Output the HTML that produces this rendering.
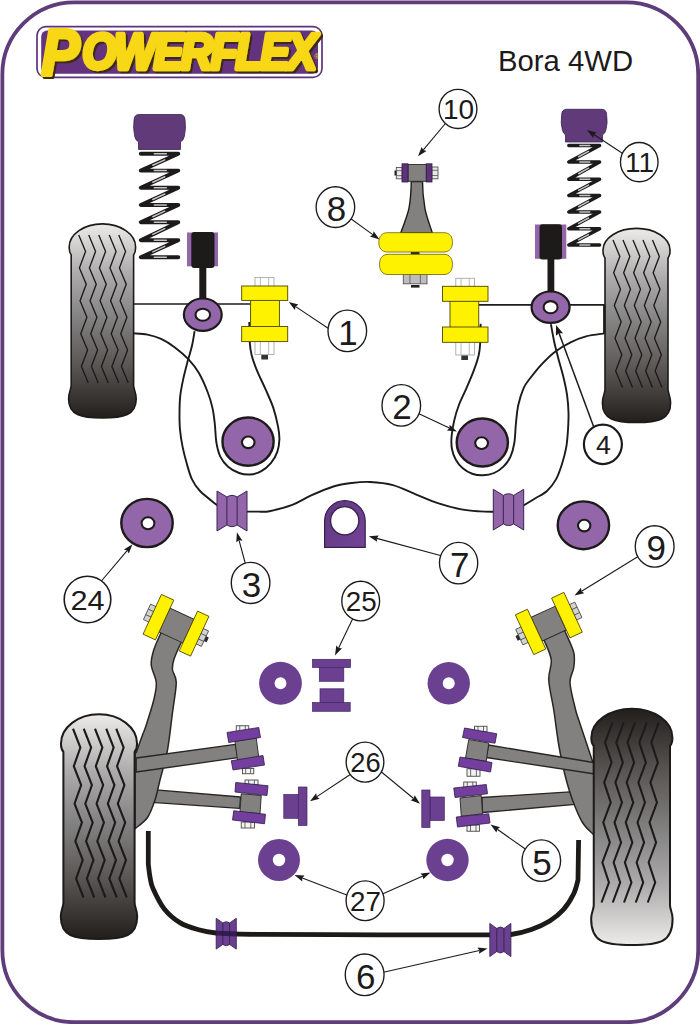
<!DOCTYPE html>
<html lang="en">
<head>
<meta charset="utf-8">
<title>Powerflex - Bora 4WD</title>
<style>
html,body{margin:0;padding:0;background:#ffffff;}
body{width:700px;height:1024px;overflow:hidden;}
svg{display:block;font-family:'Liberation Sans', sans-serif;}
</style>
</head>
<body>
<svg width="700" height="1024" viewBox="0 0 700 1024">
<defs>
<linearGradient id="tg" x1="0" y1="0" x2="0" y2="1"><stop offset="0" stop-color="#ecebea"/><stop offset="0.25" stop-color="#aeacac"/><stop offset="0.5" stop-color="#807f7f"/><stop offset="0.75" stop-color="#56524f"/><stop offset="1" stop-color="#221e1c"/></linearGradient>
<linearGradient id="d7" x1="0" y1="0" x2="1" y2="1"><stop offset="0" stop-color="#603a7e"/><stop offset="1" stop-color="#744398"/></linearGradient>
<filter id="bl" x="-10%" y="-50%" width="120%" height="200%"><feGaussianBlur stdDeviation="0.55"/></filter>
</defs>
<rect x="0" y="0" width="700" height="1024" fill="#ffffff"/>
<rect x="2.35" y="2.3" width="695.85" height="1019.9" rx="72" ry="72" fill="none" stroke="#5f3c7a" stroke-width="3.8"/>
<rect x="37" y="26.6" width="285" height="50.8" rx="9" fill="#fff" stroke="#5f3278" stroke-width="1.7"/>
<rect x="41.2" y="30.4" width="276.8" height="43.3" rx="6" fill="#64327f"/>
<defs><filter id="ls" x="-5%" y="-10%" width="110%" height="125%"><feOffset in="SourceAlpha" dx="1.8" dy="1.5" result="o"/><feFlood flood-color="#3b2a12"/><feComposite in2="o" operator="in" result="sh"/><feMerge><feMergeNode in="sh"/><feMergeNode in="SourceGraphic"/></feMerge></filter></defs>
<text filter="url(#ls)" transform="translate(41.5 74.5) scale(0.89 1)" font-weight="bold" font-style="italic" fill="#f7d714" stroke="#f7d714" stroke-linejoin="round"><tspan font-size="64" stroke-width="4.2">P</tspan><tspan x="45.8" dy="-5.1" font-size="49.5" stroke-width="4.6" letter-spacing="-2.4">OWERFLEX</tspan></text>
<text x="314.2" y="58.5" font-size="6.5" fill="#f7d714">&#174;</text>
<text x="498" y="71" font-size="29.3" fill="#1d1a1a">Bora 4WD</text>
<g>
<path d="M71.2,255 Q69,252.2 69.2,247 C69.2,234.25 84.07,223.9 102.4,223.9 C120.73,223.9 135.6,234.25 135.6,247 Q135.8,252.2 133.6,255 L133.6,385 C133.6,390 136.2,392 136.2,399 C136.2,415 123.6,418 102.4,418 C81.2,418 68.6,415 68.6,399 C68.6,392 71.2,390 71.2,385 Z" fill="url(#tg)" stroke="#1d1a1a" stroke-width="1.6"/>
<polyline points="78.75,235 85.58,251.44 79.42,267.89 86.25,284.33 80.08,300.78 86.92,317.22 80.75,333.67 87.58,350.11 81.42,366.56 88.25,383" fill="none" stroke="#1d1a1a" stroke-width="1.35" stroke-linejoin="miter"/>
<polyline points="88.75,235 95.58,251.44 89.42,267.89 96.25,284.33 90.08,300.78 96.92,317.22 90.75,333.67 97.58,350.11 91.42,366.56 98.25,383" fill="none" stroke="#1d1a1a" stroke-width="1.35" stroke-linejoin="miter"/>
<polyline points="98.75,235 105.58,251.44 99.42,267.89 106.25,284.33 100.08,300.78 106.92,317.22 100.75,333.67 107.58,350.11 101.42,366.56 108.25,383" fill="none" stroke="#1d1a1a" stroke-width="1.35" stroke-linejoin="miter"/>
<polyline points="109.25,235 116.08,251.44 109.92,267.89 116.75,284.33 110.58,300.78 117.42,317.22 111.25,333.67 118.08,350.11 111.92,366.56 118.75,383" fill="none" stroke="#1d1a1a" stroke-width="1.35" stroke-linejoin="miter"/>
<polyline points="118.75,235 125.58,251.44 119.42,267.89 126.25,284.33 120.08,300.78 126.92,317.22 120.75,333.67 127.58,350.11 121.42,366.56 128.25,383" fill="none" stroke="#1d1a1a" stroke-width="1.35" stroke-linejoin="miter"/>
</g>
<g>
<path d="M605,258 Q602.8,255.2 603,250 C603,238.08 618.01,228.4 636.5,228.4 C654.99,228.4 670,238.08 670,250 Q670.2,255.2 668,258 L668,389 C668,394 670.6,396 670.6,403 C670.6,419.5 658,422.5 636.5,422.5 C615,422.5 602.4,419.5 602.4,403 C602.4,396 605,394 605,389 Z" fill="url(#tg)" stroke="#1d1a1a" stroke-width="1.6"/>
<polyline points="613,240 619.83,256.39 613.67,272.78 620.5,289.17 614.33,305.56 621.17,321.94 615,338.33 621.83,354.72 615.67,371.11 622.5,387.5" fill="none" stroke="#1d1a1a" stroke-width="1.35" stroke-linejoin="miter"/>
<polyline points="623,240 629.83,256.39 623.67,272.78 630.5,289.17 624.33,305.56 631.17,321.94 625,338.33 631.83,354.72 625.67,371.11 632.5,387.5" fill="none" stroke="#1d1a1a" stroke-width="1.35" stroke-linejoin="miter"/>
<polyline points="633,240 639.83,256.39 633.67,272.78 640.5,289.17 634.33,305.56 641.17,321.94 635,338.33 641.83,354.72 635.67,371.11 642.5,387.5" fill="none" stroke="#1d1a1a" stroke-width="1.35" stroke-linejoin="miter"/>
<polyline points="643,240 649.83,256.39 643.67,272.78 650.5,289.17 644.33,305.56 651.17,321.94 645,338.33 651.83,354.72 645.67,371.11 652.5,387.5" fill="none" stroke="#1d1a1a" stroke-width="1.35" stroke-linejoin="miter"/>
<polyline points="652.5,240 659.33,256.39 653.17,272.78 660,289.17 653.83,305.56 660.67,321.94 654.5,338.33 661.33,354.72 655.17,371.11 662,387.5" fill="none" stroke="#1d1a1a" stroke-width="1.35" stroke-linejoin="miter"/>
</g>
<line x1="133.75" y1="304" x2="251" y2="304" stroke="#1d1a1a" stroke-width="1.7"/>
<line x1="478.5" y1="304.8" x2="604.5" y2="304.8" stroke="#1d1a1a" stroke-width="1.7"/>
<path d="M133.7,333.4 C135.98,333.6 142.83,333.68 147.4,334.6 C151.97,335.52 156.52,336.77 161.1,338.9 C165.68,341.03 170.32,343.98 174.9,347.4 C179.48,350.82 184.6,355.12 188.6,359.4 C192.6,363.68 195.7,367.58 198.9,373.1 C202.1,378.62 205.53,386.67 207.8,392.5 C210.07,398.33 211.33,402.89 212.5,408.1 C213.67,413.31 214.15,418.02 214.8,423.75 C215.45,429.48 215.48,437.02 216.4,442.5 C217.32,447.98 218.35,452.57 220.3,456.6 C222.25,460.63 224.97,463.97 228.1,466.7 C231.23,469.43 235.45,471.7 239.1,473 C242.75,474.3 246.37,474.77 250,474.5 C253.63,474.23 257.38,473.35 260.9,471.4 C264.42,469.45 268.37,466.05 271.1,462.8 C273.83,459.55 275.92,455.8 277.3,451.9 C278.68,448 279.27,443.57 279.4,439.4 C279.53,435.23 279.1,432.12 278.1,426.9 C277.1,421.68 275.48,414.35 273.4,408.1 C271.32,401.85 268.33,395.65 265.6,389.4 C262.87,383.15 259.33,376.33 257,370.6 C254.67,364.87 252.82,359.82 251.6,355 C250.38,350.18 250.08,347.2 249.7,341.7 C249.32,336.2 249.37,325.28 249.3,322 " fill="none" stroke="#1d1a1a" stroke-width="1.9"/>
<path d="M194.6,331.1 C194.17,333.53 193.15,340.7 192,345.7 C190.85,350.7 189.13,355.67 187.7,361.1 C186.27,366.53 184.63,372.58 183.4,378.3 C182.17,384.02 180.95,389.68 180.3,395.4 C179.65,401.12 179.55,406.88 179.5,412.6 C179.45,418.32 179.48,423.98 180,429.7 C180.52,435.42 181.45,441.18 182.6,446.9 C183.75,452.62 185.33,458.58 186.9,464 C188.47,469.42 189.82,474.9 192,479.4 C194.18,483.9 195.75,486.65 200,491 C204.25,495.35 214.58,503.08 217.5,505.5 " fill="none" stroke="#1d1a1a" stroke-width="1.9"/>
<path d="M247,511.6 C248.83,511.6 254.27,511.67 258,511.6 C261.73,511.53 263.68,512.33 269.4,511.2 C275.12,510.07 285.43,507.38 292.3,504.8 C299.17,502.22 303.75,498.75 310.6,495.7 C317.45,492.65 326.55,488.62 333.4,486.5 C340.25,484.38 345.6,483.75 351.7,483 C357.8,482.25 363.13,481.65 370,482 C376.87,482.35 385.28,483.05 392.9,485.1 C400.52,487.15 408.08,491.25 415.7,494.3 C423.32,497.35 430.98,500.88 438.6,503.4 C446.22,505.92 454.5,508.07 461.4,509.4 C468.3,510.73 474.65,511.02 480,511.4 C485.35,511.78 491.25,511.65 493.5,511.7 " fill="none" stroke="#1d1a1a" stroke-width="1.9"/>
<path d="M480.6,323.75 C480.55,326.74 480.61,336.49 480.3,341.7 C479.99,346.91 479.84,350.18 478.75,355 C477.66,359.82 475.89,364.87 473.75,370.6 C471.61,376.33 468.38,383.67 465.9,389.4 C463.42,395.13 460.85,399.8 458.9,405 C456.95,410.2 455.42,415.39 454.2,420.6 C452.98,425.81 451.98,431.56 451.6,436.25 C451.22,440.94 451.2,444.84 451.9,448.75 C452.6,452.66 453.98,456.44 455.8,459.7 C457.62,462.96 460.07,465.96 462.8,468.3 C465.53,470.64 468.82,472.58 472.2,473.75 C475.58,474.92 479.45,475.43 483.1,475.3 C486.75,475.18 490.72,474.43 494.1,473 C497.48,471.57 500.67,469.43 503.4,466.7 C506.13,463.97 508.67,460.63 510.5,456.6 C512.33,452.57 513.5,447.98 514.4,442.5 C515.3,437.02 515.25,430 515.9,423.75 C516.55,417.5 516.99,410.99 518.3,405 C519.61,399.01 521.8,392.22 523.75,387.8 C525.7,383.38 527.06,382.37 530,378.5 C532.94,374.63 537.22,369.07 541.4,364.6 C545.58,360.13 550.23,355.42 555.1,351.7 C559.97,347.98 565.45,344.87 570.6,342.3 C575.75,339.73 580.35,337.78 586,336.3 C591.65,334.82 601.42,333.88 604.5,333.4 " fill="none" stroke="#1d1a1a" stroke-width="1.9"/>
<path d="M550.9,324.3 C551.47,327.3 553.02,336.45 554.3,342.3 C555.58,348.15 557.03,353.4 558.6,359.4 C560.17,365.4 562.28,372.3 563.7,378.3 C565.12,384.3 566.3,389.68 567.1,395.4 C567.9,401.12 568.35,406.88 568.5,412.6 C568.65,418.32 568.37,423.98 568,429.7 C567.63,435.42 567.3,441.18 566.3,446.9 C565.3,452.62 563.72,458.58 562,464 C560.28,469.42 558.5,474.9 556,479.4 C553.5,483.9 550.5,487.82 547,491 C543.5,494.18 538.92,496.08 535,498.5 C531.08,500.92 525.42,504.33 523.5,505.5 " fill="none" stroke="#1d1a1a" stroke-width="1.9"/>
<line x1="604.2" y1="304.8" x2="604.2" y2="333.5" stroke="#1d1a1a" stroke-width="2.2"/>
<polyline points="140.8,153.75 178.3,153.75 140.8,170.6 178.3,170.6 140.8,187.8 178.3,187.8 140.8,205 178.3,205 140.8,222.2 178.3,222.2 140.8,240.2 178.3,240.2 140.8,257.3 178.3,257.3" fill="none" stroke="#1d1a1a" stroke-width="3.9" stroke-linejoin="round" stroke-linecap="round"/>
<g filter="url(#bl)" stroke="#ededed" stroke-width="1.5" stroke-linecap="round" opacity="0.8">
<line x1="154.3" y1="153.75" x2="166.3" y2="153.75"/>
<line x1="164.8" y1="159.82" x2="152.8" y2="165.21"/>
<line x1="154.3" y1="170.6" x2="166.3" y2="170.6"/>
<line x1="164.8" y1="176.79" x2="152.8" y2="182.3"/>
<line x1="154.3" y1="187.8" x2="166.3" y2="187.8"/>
<line x1="164.8" y1="193.99" x2="152.8" y2="199.5"/>
<line x1="154.3" y1="205" x2="166.3" y2="205"/>
<line x1="164.8" y1="211.19" x2="152.8" y2="216.7"/>
<line x1="154.3" y1="222.2" x2="166.3" y2="222.2"/>
<line x1="164.8" y1="228.68" x2="152.8" y2="234.44"/>
<line x1="154.3" y1="240.2" x2="166.3" y2="240.2"/>
<line x1="164.8" y1="246.36" x2="152.8" y2="251.83"/>
<line x1="154.3" y1="257.3" x2="166.3" y2="257.3"/>
</g>
<polyline points="568.8,145.5 599.6,145.5 568.8,162 599.6,162 568.8,179.25 599.6,179.25 568.8,195.5 599.6,195.5 568.8,212 599.6,212 568.8,228.75 599.6,228.75 568.8,245 599.6,245" fill="none" stroke="#1d1a1a" stroke-width="3.5" stroke-linejoin="round" stroke-linecap="round"/>
<g filter="url(#bl)" stroke="#ededed" stroke-width="1.5" stroke-linecap="round" opacity="0.8">
<line x1="579.89" y1="145.5" x2="589.74" y2="145.5"/>
<line x1="588.51" y1="151.44" x2="578.66" y2="156.72"/>
<line x1="579.89" y1="162" x2="589.74" y2="162"/>
<line x1="588.51" y1="168.21" x2="578.66" y2="173.73"/>
<line x1="579.89" y1="179.25" x2="589.74" y2="179.25"/>
<line x1="588.51" y1="185.1" x2="578.66" y2="190.3"/>
<line x1="579.89" y1="195.5" x2="589.74" y2="195.5"/>
<line x1="588.51" y1="201.44" x2="578.66" y2="206.72"/>
<line x1="579.89" y1="212" x2="589.74" y2="212"/>
<line x1="588.51" y1="218.03" x2="578.66" y2="223.39"/>
<line x1="579.89" y1="228.75" x2="589.74" y2="228.75"/>
<line x1="588.51" y1="234.6" x2="578.66" y2="239.8"/>
<line x1="579.89" y1="245" x2="589.74" y2="245"/>
</g>
<path d="M138.7,114.5 L180.4,114.5 Q184.9,114.5 185.1,120.5 Q186.2,128.5 184.4,136.2 Q183.4,140.8 180.5,141.8 L180.5,149.5 L138.5,149.5 L138.5,141.8 Q135.7,140.8 134.7,136.2 Q132.9,128.5 134,120.5 Q134.2,114.5 138.7,114.5 Z" fill="#613a79" stroke="#3a2350" stroke-width="0.8"/>
<path d="M566.3,109.3 L602,109.3 Q606.5,109.3 606.7,115.3 Q607.8,123.3 606,129.57 Q605,133.81 602.5,134.81 L602.5,142 L565.5,142 L565.5,134.81 Q563.3,133.81 562.3,129.57 Q560.5,123.3 561.6,115.3 Q561.8,109.3 566.3,109.3 Z" fill="#613a79" stroke="#3a2350" stroke-width="0.8"/>
<rect x="187" y="232.5" width="31" height="33.8" fill="#9266a8"/>
<rect x="191.3" y="232" width="23.2" height="36" fill="#1d1a1a" rx="3"/>
<rect x="199.3" y="266" width="7" height="34" fill="#1d1a1a"/>
<rect x="535" y="224.5" width="31.3" height="34.3" fill="#9266a8"/>
<rect x="539.5" y="224.2" width="22.5" height="35.3" fill="#1d1a1a" rx="3"/>
<rect x="547.5" y="257.5" width="6.8" height="35.5" fill="#1d1a1a"/>
<ellipse cx="202.8" cy="314.7" rx="18.9" ry="16.2" fill="#9266a8" stroke="#1d1a1a" stroke-width="2.2"/>
<ellipse cx="202.8" cy="314.7" rx="7.3" ry="6" fill="#fff" stroke="#1d1a1a" stroke-width="2.1"/>
<ellipse cx="550.6" cy="307.2" rx="19" ry="15.7" fill="#9266a8" stroke="#1d1a1a" stroke-width="2.2"/>
<ellipse cx="550.6" cy="307.2" rx="7" ry="6.1" fill="#fff" stroke="#1d1a1a" stroke-width="2.1"/>
<rect x="255" y="277.5" width="19" height="9.5" fill="#ffffff" stroke="#a8a8a8" stroke-width="0.9"/>
<line x1="260.32" y1="277.5" x2="260.32" y2="287" stroke="#a8a8a8" stroke-width="0.8"/>
<line x1="268.68" y1="277.5" x2="268.68" y2="287" stroke="#a8a8a8" stroke-width="0.8"/>
<rect x="255" y="340.6" width="19" height="13.9" fill="#ffffff" stroke="#a8a8a8" stroke-width="0.9"/>
<line x1="260.32" y1="340.6" x2="260.32" y2="354.5" stroke="#a8a8a8" stroke-width="0.8"/>
<line x1="268.68" y1="340.6" x2="268.68" y2="354.5" stroke="#a8a8a8" stroke-width="0.8"/>
<rect x="261.3" y="355" width="6.7" height="4.5" fill="#333"/>
<rect x="250.6" y="299.9" width="28.8" height="27.1" fill="#fff200" stroke="#4d4500" stroke-width="0.9"/>
<rect x="241.7" y="286" width="46" height="14.4" fill="#fff200" stroke="#4d4500" stroke-width="0.9"/>
<rect x="241.7" y="326.5" width="46" height="15.1" fill="#fff200" stroke="#4d4500" stroke-width="0.9"/>
<rect x="455.8" y="278.3" width="18.7" height="9" fill="#ffffff" stroke="#a8a8a8" stroke-width="0.9"/>
<line x1="461.04" y1="278.3" x2="461.04" y2="287.3" stroke="#a8a8a8" stroke-width="0.8"/>
<line x1="469.26" y1="278.3" x2="469.26" y2="287.3" stroke="#a8a8a8" stroke-width="0.8"/>
<rect x="455.8" y="341.3" width="18.7" height="13.7" fill="#ffffff" stroke="#a8a8a8" stroke-width="0.9"/>
<line x1="461.04" y1="341.3" x2="461.04" y2="355" stroke="#a8a8a8" stroke-width="0.8"/>
<line x1="469.26" y1="341.3" x2="469.26" y2="355" stroke="#a8a8a8" stroke-width="0.8"/>
<rect x="461.3" y="355.5" width="6.7" height="4.5" fill="#333"/>
<rect x="450" y="300.8" width="28.75" height="26.7" fill="#fff200" stroke="#4d4500" stroke-width="0.9"/>
<rect x="442.5" y="286.3" width="45.5" height="15" fill="#fff200" stroke="#4d4500" stroke-width="0.9"/>
<rect x="442.5" y="327" width="45.5" height="15.3" fill="#fff200" stroke="#4d4500" stroke-width="0.9"/>
<ellipse cx="248.05" cy="441.6" rx="25.6" ry="24.1" fill="#9266a8" stroke="#1d1a1a" stroke-width="2.4"/>
<ellipse cx="248.25" cy="442.3" rx="6.3" ry="5.8" fill="#fff" stroke="#1d1a1a" stroke-width="2.1"/>
<ellipse cx="482.3" cy="442.5" rx="25.6" ry="24" fill="#9266a8" stroke="#1d1a1a" stroke-width="2.4"/>
<ellipse cx="481.6" cy="443.1" rx="6.4" ry="5.9" fill="#fff" stroke="#1d1a1a" stroke-width="2.1"/>
<ellipse cx="147" cy="523" rx="25.7" ry="24.1" fill="#9266a8" stroke="#1d1a1a" stroke-width="2.4"/>
<ellipse cx="148" cy="523.2" rx="6.4" ry="6" fill="#fff" stroke="#1d1a1a" stroke-width="2"/>
<ellipse cx="583.4" cy="525.3" rx="25.7" ry="23.9" fill="#9266a8" stroke="#1d1a1a" stroke-width="2.4"/>
<ellipse cx="584.2" cy="525.6" rx="6.2" ry="5.8" fill="#fff" stroke="#1d1a1a" stroke-width="2.1"/>
<path d="M217,491 L226.9,497 Q232,493.7 237.1,497 L247,491 L247,531 L237.1,525 Q232,528.3 226.9,525 L217,531 Z" fill="#9266a8" stroke="#3a2355" stroke-width="1"/>
<line x1="226.9" y1="497" x2="226.9" y2="525" stroke="#3a2355" stroke-width="1"/>
<line x1="237.1" y1="497" x2="237.1" y2="525" stroke="#3a2355" stroke-width="1"/>
<path d="M493.3,489.3 L503.33,495.41 Q508.5,492.05 513.67,495.41 L523.7,489.3 L523.7,530 L513.67,523.89 Q508.5,527.25 503.33,523.89 L493.3,530 Z" fill="#9266a8" stroke="#3a2355" stroke-width="1"/>
<line x1="503.33" y1="495.41" x2="503.33" y2="523.89" stroke="#3a2355" stroke-width="1"/>
<line x1="513.67" y1="495.41" x2="513.67" y2="523.89" stroke="#3a2355" stroke-width="1"/>
<path d="M324.6,547.3 V521 A20.3,20.3 0 0 1 365.2,521 V547.3 Z" fill="url(#d7)" stroke="#38204e" stroke-width="1.2"/>
<circle cx="344.7" cy="520.7" r="14.1" fill="#fff" stroke="#38204e" stroke-width="1.3"/>
<rect x="396.3" y="167.5" width="5.9" height="11.3" fill="#e8e8e8" stroke="#555" stroke-width="0.9"/>
<line x1="396.3" y1="170.66" x2="402.2" y2="170.66" stroke="#555" stroke-width="0.8"/>
<line x1="396.3" y1="175.64" x2="402.2" y2="175.64" stroke="#555" stroke-width="0.8"/>
<rect x="431.8" y="167" width="6.2" height="11.8" fill="#e8e8e8" stroke="#555" stroke-width="0.9"/>
<line x1="431.8" y1="170.3" x2="438" y2="170.3" stroke="#555" stroke-width="0.8"/>
<line x1="431.8" y1="175.5" x2="438" y2="175.5" stroke="#555" stroke-width="0.8"/>
<rect x="394.5" y="170.5" width="2" height="5" fill="#222"/>
<path d="M411.3,181.5 C411,195 410,203 408.9,208.6 C407.5,215 405.2,221 400.8,232.8 H432.3 C428.4,221 426,215 425,208.6 C423.5,200 422.5,195 422.5,181.5 Z" fill="#82817f" stroke="#1d1a1a" stroke-width="1.4"/>
<rect x="408" y="164.5" width="18.3" height="16.8" fill="#82817f" stroke="#2a2a2a" stroke-width="0.9"/>
<rect x="402" y="163.8" width="6" height="18.2" fill="#5e3279" stroke="#2c1c48" stroke-width="0.8"/>
<rect x="426.3" y="163.8" width="5.7" height="18.2" fill="#5e3279" stroke="#2c1c48" stroke-width="0.8"/>
<rect x="403.3" y="274" width="23.7" height="9.8" fill="#bdbdbd" stroke="#555" stroke-width="0.9"/>
<line x1="409.94" y1="274" x2="409.94" y2="283.8" stroke="#555" stroke-width="0.8"/>
<line x1="420.36" y1="274" x2="420.36" y2="283.8" stroke="#555" stroke-width="0.8"/>
<rect x="411" y="285" width="8.5" height="2.6" fill="#222"/>
<rect x="410.8" y="251" width="8.7" height="4" fill="#222"/>
<path d="M387.3,232.7 H444 C449.7,232.7 452.5,236.95 452.5,242.35 C452.5,247.75 449.7,252 444,252 H387.3 C381.6,252 378.8,247.75 378.8,242.35 C378.8,236.95 381.6,232.7 387.3,232.7 Z" fill="#fff200" stroke="#6a6000" stroke-width="0.8"/>
<path d="M388,254.3 H444 C449.7,254.3 452.5,258.74 452.5,264.4 C452.5,270.06 449.7,274.5 444,274.5 H388 C382.3,274.5 379.5,270.06 379.5,264.4 C379.5,258.74 382.3,254.3 388,254.3 Z" fill="#fff200" stroke="#6a6000" stroke-width="0.8"/>
<defs><linearGradient id="tgr" x1="0" y1="0" x2="0" y2="1"><stop offset="0" stop-color="#221e1c"/><stop offset="0.25" stop-color="#56524f"/><stop offset="0.5" stop-color="#807f7f"/><stop offset="0.75" stop-color="#aeacac"/><stop offset="1" stop-color="#ecebea"/></linearGradient></defs>
<polygon points="150,789.4 240.5,797 239.7,808.3 148,802.1" fill="#82817f" stroke="#262626" stroke-width="1.3" stroke-linejoin="round"/>
<polygon points="482,797.5 578,791.3 581,803.9 482.5,812.5" fill="#82817f" stroke="#262626" stroke-width="1.3" stroke-linejoin="round"/>
<path d="M164,627 C163.33,628.33 161.71,631.17 160,635 C158.29,638.83 155.21,645 153.75,650 C152.29,655 150.83,659.58 151.25,665 C151.67,670.42 155.83,676.67 156.25,682.5 C156.67,688.33 155.42,692.92 153.75,700 C152.08,707.08 148.12,719.17 146.25,725 C144.38,730.83 144.17,730.42 142.5,735 C140.83,739.58 137.29,749.58 136.25,752.5 L135,752.5 L135,828.75 135,828.75 C137.08,826.88 144.17,822.29 147.5,817.5 C150.83,812.71 152.92,806.25 155,800 C157.08,793.75 157.92,788.33 160,780 C162.08,771.67 165.42,761.25 167.5,750 C169.58,738.75 171.04,723.75 172.5,712.5 C173.96,701.25 176.25,689.58 176.25,682.5 C176.25,675.42 172.92,673.75 172.5,670 C172.08,666.25 172.5,664.17 173.75,660 C175,655.83 178.12,649 180,645 C181.88,641 184.17,637.5 185,636 Z" fill="#82817f" stroke="#262626" stroke-width="1.5"/>
<path d="M540,632 C540.75,633.54 542.62,636.58 544.5,641.25 C546.38,645.92 550.54,653.54 551.25,660 C551.96,666.46 548.33,671.67 548.75,680 C549.17,688.33 552.08,699.17 553.75,710 C555.42,720.83 556.88,734.17 558.75,745 C560.62,755.83 562.71,765.83 565,775 C567.29,784.17 569.58,792.08 572.5,800 C575.42,807.92 579,816.75 582.5,822.5 C586,828.25 591.67,832.5 593.5,834.5 L593.75,834.5 L593.75,765 593.75,765 C592.92,762.5 591.25,757.5 588.75,750 C586.25,742.5 581.04,727.08 578.75,720 C576.46,712.92 576.46,713.75 575,707.5 C573.54,701.25 570.21,689.17 570,682.5 C569.79,675.83 573.12,672.5 573.75,667.5 C574.38,662.5 575.12,658.33 573.75,652.5 C572.38,646.67 567.62,637.42 565.5,632.5 C563.38,627.58 561.75,624.58 561,623 Z" fill="#82817f" stroke="#262626" stroke-width="1.5"/>
<polygon points="136.25,758 235.5,744.3 237.8,757.7 136.25,772" fill="#82817f" stroke="#262626" stroke-width="1.3" stroke-linejoin="round"/>
<polygon points="488.5,745 593.5,762.5 593.5,773.75 486.3,757.5" fill="#82817f" stroke="#262626" stroke-width="1.3" stroke-linejoin="round"/>
<g>
<path d="M63.4,752 Q60.8,749.02 61,743.5 C61,727.38 78.02,714.3 99,714.3 C119.98,714.3 137,727.38 137,743.5 Q137.2,749.02 134.6,752 L134.6,902.5 C134.6,907.5 137.2,909.5 137.2,916.5 C137.2,936 124.6,939 99,939 C73.4,939 60.8,936 60.8,916.5 C60.8,909.5 63.4,907.5 63.4,902.5 Z" fill="url(#tg)" stroke="#1d1a1a" stroke-width="2"/>
<polyline points="73,728.75 80.39,747.5 73.78,766.25 81.17,785 74.56,803.75 81.94,822.5 75.33,841.25 82.72,860 76.11,878.75 83.5,897.5" fill="none" stroke="#1d1a1a" stroke-width="2.1" stroke-linejoin="miter"/>
<polyline points="83.75,728.75 91.14,747.5 84.53,766.25 91.92,785 85.31,803.75 92.69,822.5 86.08,841.25 93.47,860 86.86,878.75 94.25,897.5" fill="none" stroke="#1d1a1a" stroke-width="2.1" stroke-linejoin="miter"/>
<polyline points="95,728.75 102.39,747.5 95.78,766.25 103.17,785 96.56,803.75 103.94,822.5 97.33,841.25 104.72,860 98.11,878.75 105.5,897.5" fill="none" stroke="#1d1a1a" stroke-width="2.1" stroke-linejoin="miter"/>
<polyline points="106.25,728.75 113.64,747.5 107.03,766.25 114.42,785 107.81,803.75 115.19,822.5 108.58,841.25 115.97,860 109.36,878.75 116.75,897.5" fill="none" stroke="#1d1a1a" stroke-width="2.1" stroke-linejoin="miter"/>
<polyline points="116.25,728.75 123.64,747.5 117.03,766.25 124.42,785 117.81,803.75 125.19,822.5 118.58,841.25 125.97,860 119.36,878.75 126.75,897.5" fill="none" stroke="#1d1a1a" stroke-width="2.1" stroke-linejoin="miter"/>
</g>
<g>
<path d="M593.75,746 Q591.15,743.02 591.35,737.5 C591.35,721.63 609.51,708.75 631.88,708.75 C654.24,708.75 672.4,721.63 672.4,737.5 Q672.6,743.02 670,746 L670,905 C670,910 672.6,912 672.6,919 C672.6,942 660,945 631.88,945 C603.75,945 591.15,942 591.15,919 C591.15,912 593.75,910 593.75,905 Z" fill="url(#tgr)" stroke="#1d1a1a" stroke-width="2"/>
<polyline points="612.5,722.5 605.06,742.5 611.61,762.5 604.17,782.5 610.72,802.5 603.28,822.5 609.83,842.5 602.39,862.5 608.94,882.5 601.5,902.5" fill="none" stroke="#1d1a1a" stroke-width="2.1" stroke-linejoin="miter"/>
<polyline points="623.75,722.5 616.31,742.5 622.86,762.5 615.42,782.5 621.97,802.5 614.53,822.5 621.08,842.5 613.64,862.5 620.19,882.5 612.75,902.5" fill="none" stroke="#1d1a1a" stroke-width="2.1" stroke-linejoin="miter"/>
<polyline points="635,722.5 627.56,742.5 634.11,762.5 626.67,782.5 633.22,802.5 625.78,822.5 632.33,842.5 624.89,862.5 631.44,882.5 624,902.5" fill="none" stroke="#1d1a1a" stroke-width="2.1" stroke-linejoin="miter"/>
<polyline points="646.75,722.5 639.31,742.5 645.86,762.5 638.42,782.5 644.97,802.5 637.53,822.5 644.08,842.5 636.64,862.5 643.19,882.5 635.75,902.5" fill="none" stroke="#1d1a1a" stroke-width="2.1" stroke-linejoin="miter"/>
<polyline points="658.75,722.5 651.31,742.5 657.86,762.5 650.42,782.5 656.97,802.5 649.53,822.5 656.08,842.5 648.64,862.5 655.19,882.5 647.75,902.5" fill="none" stroke="#1d1a1a" stroke-width="2.1" stroke-linejoin="miter"/>
</g>
<rect x="236.25" y="725.75" width="12.5" height="5.75" fill="#f2f2f2" stroke="#4a4a4a" stroke-width="0.9"/>
<line x1="239.75" y1="725.75" x2="239.75" y2="731.5" stroke="#4a4a4a" stroke-width="0.8"/>
<line x1="245.25" y1="725.75" x2="245.25" y2="731.5" stroke="#4a4a4a" stroke-width="0.8"/>
<rect x="242.5" y="768.5" width="11.25" height="5.25" fill="#f2f2f2" stroke="#4a4a4a" stroke-width="0.9"/>
<line x1="245.65" y1="768.5" x2="245.65" y2="773.75" stroke="#4a4a4a" stroke-width="0.8"/>
<line x1="250.6" y1="768.5" x2="250.6" y2="773.75" stroke="#4a4a4a" stroke-width="0.8"/>
<polygon points="235,741.25 256.25,738 258.75,757.5 237.5,760.5" fill="#82817f" stroke="#262626" stroke-width="0.9" stroke-linejoin="round"/>
<polygon points="227,732.5 258.75,727.5 260.5,737.5 228.75,742.5" fill="#743e9e" stroke="#2c1c48" stroke-width="0.8" stroke-linejoin="round"/>
<polygon points="231.25,760.75 263,755.5 264.5,765 233,770" fill="#743e9e" stroke="#2c1c48" stroke-width="0.8" stroke-linejoin="round"/>
<rect x="245" y="780" width="13" height="5" fill="#f2f2f2" stroke="#4a4a4a" stroke-width="0.9"/>
<line x1="248.64" y1="780" x2="248.64" y2="785" stroke="#4a4a4a" stroke-width="0.8"/>
<line x1="254.36" y1="780" x2="254.36" y2="785" stroke="#4a4a4a" stroke-width="0.8"/>
<rect x="241.25" y="822" width="13.25" height="6" fill="#f2f2f2" stroke="#4a4a4a" stroke-width="0.9"/>
<line x1="244.96" y1="822" x2="244.96" y2="828" stroke="#4a4a4a" stroke-width="0.8"/>
<line x1="250.79" y1="822" x2="250.79" y2="828" stroke="#4a4a4a" stroke-width="0.8"/>
<polygon points="241.25,793.75 261.25,795.5 260,813.75 240,812" fill="#82817f" stroke="#262626" stroke-width="0.9" stroke-linejoin="round"/>
<polygon points="235.75,782.5 268,785.75 267,795.5 235,792" fill="#743e9e" stroke="#2c1c48" stroke-width="0.8" stroke-linejoin="round"/>
<polygon points="233.75,810.75 265.5,814.25 264.5,823.75 232.5,820" fill="#743e9e" stroke="#2c1c48" stroke-width="0.8" stroke-linejoin="round"/>
<rect x="474.5" y="726.25" width="12.5" height="5.75" fill="#f2f2f2" stroke="#4a4a4a" stroke-width="0.9"/>
<line x1="478" y1="726.25" x2="478" y2="732" stroke="#4a4a4a" stroke-width="0.8"/>
<line x1="483.5" y1="726.25" x2="483.5" y2="732" stroke="#4a4a4a" stroke-width="0.8"/>
<rect x="467" y="768.75" width="13" height="7.5" fill="#f2f2f2" stroke="#4a4a4a" stroke-width="0.9"/>
<line x1="470.64" y1="768.75" x2="470.64" y2="776.25" stroke="#4a4a4a" stroke-width="0.8"/>
<line x1="476.36" y1="768.75" x2="476.36" y2="776.25" stroke="#4a4a4a" stroke-width="0.8"/>
<polygon points="468.75,739.5 488.75,743 486.25,761.25 465.5,758" fill="#82817f" stroke="#262626" stroke-width="0.9" stroke-linejoin="round"/>
<polygon points="464.5,728 496.75,733.75 495,743.25 462.5,737.5" fill="#743e9e" stroke="#2c1c48" stroke-width="0.8" stroke-linejoin="round"/>
<polygon points="460,757 492,762.5 490.5,772 458.25,766.25" fill="#743e9e" stroke="#2c1c48" stroke-width="0.8" stroke-linejoin="round"/>
<rect x="463.75" y="782" width="12.5" height="5.5" fill="#f2f2f2" stroke="#4a4a4a" stroke-width="0.9"/>
<line x1="467.25" y1="782" x2="467.25" y2="787.5" stroke="#4a4a4a" stroke-width="0.8"/>
<line x1="472.75" y1="782" x2="472.75" y2="787.5" stroke="#4a4a4a" stroke-width="0.8"/>
<rect x="467" y="825" width="12.5" height="6.25" fill="#f2f2f2" stroke="#4a4a4a" stroke-width="0.9"/>
<line x1="470.5" y1="825" x2="470.5" y2="831.25" stroke="#4a4a4a" stroke-width="0.8"/>
<line x1="476" y1="825" x2="476" y2="831.25" stroke="#4a4a4a" stroke-width="0.8"/>
<polygon points="460,798 481.25,795.5 482.5,813.75 461.25,816.25" fill="#82817f" stroke="#262626" stroke-width="0.9" stroke-linejoin="round"/>
<polygon points="453.75,788 486.25,784.5 487.5,793.75 455,797.5" fill="#743e9e" stroke="#2c1c48" stroke-width="0.8" stroke-linejoin="round"/>
<polygon points="456.25,817 488.75,813.75 490,823 457.5,827" fill="#743e9e" stroke="#2c1c48" stroke-width="0.8" stroke-linejoin="round"/>
<g transform="translate(176.5 625.5) rotate(24.8)">
<rect x="-32.5" y="-8.5" width="6.3" height="17" fill="#d2d2d2" stroke="#4a4a4a" stroke-width="0.8"/>
<line x1="-32.5" y1="-3" x2="-26.2" y2="-3" stroke="#4a4a4a" stroke-width="0.8"/>
<line x1="-32.5" y1="3" x2="-26.2" y2="3" stroke="#4a4a4a" stroke-width="0.8"/>
<rect x="25.1" y="-8.5" width="6.3" height="17" fill="#d2d2d2" stroke="#4a4a4a" stroke-width="0.8"/>
<line x1="25.1" y1="-3" x2="31.4" y2="-3" stroke="#4a4a4a" stroke-width="0.8"/>
<line x1="25.1" y1="3" x2="31.4" y2="3" stroke="#4a4a4a" stroke-width="0.8"/>
<rect x="31.4" y="-2.6" width="3" height="5.2" fill="#2b2b2b"/>
<rect x="-13.2" y="-13" width="26.4" height="26.2" fill="#82817f" stroke="#262626" stroke-width="0.9"/>
<rect x="-26.7" y="-21.9" width="13.6" height="43.8" fill="#fff200" stroke="#4d4500" stroke-width="0.8"/>
<rect x="13.1" y="-21.9" width="12.5" height="43.8" fill="#fff200" stroke="#4d4500" stroke-width="0.8"/>
</g>
<g transform="translate(548.6 623.6) rotate(-24.8)">
<rect x="-32.3" y="-8.5" width="6.3" height="17" fill="#d2d2d2" stroke="#4a4a4a" stroke-width="0.8"/>
<line x1="-32.3" y1="-3" x2="-26" y2="-3" stroke="#4a4a4a" stroke-width="0.8"/>
<line x1="-32.3" y1="3" x2="-26" y2="3" stroke="#4a4a4a" stroke-width="0.8"/>
<rect x="26.5" y="-8.5" width="6.3" height="17" fill="#d2d2d2" stroke="#4a4a4a" stroke-width="0.8"/>
<line x1="26.5" y1="-3" x2="32.8" y2="-3" stroke="#4a4a4a" stroke-width="0.8"/>
<line x1="26.5" y1="3" x2="32.8" y2="3" stroke="#4a4a4a" stroke-width="0.8"/>
<rect x="-35.3" y="-2.6" width="3" height="5.2" fill="#2b2b2b"/>
<rect x="-13.2" y="-13" width="26.4" height="26.2" fill="#82817f" stroke="#262626" stroke-width="0.9"/>
<rect x="-26.5" y="-21.9" width="13.3" height="43.8" fill="#fff200" stroke="#4d4500" stroke-width="0.8"/>
<rect x="13.4" y="-21.9" width="13.6" height="43.8" fill="#fff200" stroke="#4d4500" stroke-width="0.8"/>
</g>
<path d="M148.3,831 L148.3,864 148.3,864 C148.58,866.17 149.22,872.9 150,877 C150.78,881.1 150.62,883.27 153,888.6 C155.38,893.93 159.75,903.28 164.3,909 C168.85,914.72 174.58,919.45 180.3,922.9 C186.02,926.35 192.65,928.02 198.6,929.7 C204.55,931.38 209.77,932.28 216,933 C222.23,933.72 228.67,933.78 236,934 C243.33,934.22 236,934.17 260,934.3 C284,934.43 341.67,934.7 380,934.8 C418.33,934.9 468.17,934.95 490,934.9 C511.83,934.85 504.1,935.4 511,934.5 C517.9,933.6 524.95,931.75 531.4,929.5 C537.85,927.25 544.37,924.3 549.7,921 C555.03,917.7 559.4,914.25 563.4,909.7 C567.4,905.15 571.27,898.65 573.7,893.7 C576.13,888.75 577.28,882.28 578,880 L578.6,840" fill="none" stroke="#1d1a1a" stroke-width="4.8" stroke-linejoin="round"/>
<path d="M216.2,918.3 L222.83,922.92 Q226.25,920.38 229.67,922.92 L236.3,918.3 L236.3,949.1 L229.67,944.48 Q226.25,947.02 222.83,944.48 L216.2,949.1 Z" fill="#6c4090" stroke="#2c1c48" stroke-width="0.8"/>
<line x1="222.83" y1="922.92" x2="222.83" y2="944.48" stroke="#2c1c48" stroke-width="0.8"/>
<line x1="229.67" y1="922.92" x2="229.67" y2="944.48" stroke="#2c1c48" stroke-width="0.8"/>
<path d="M489.8,923.4 L496.76,928.38 Q500.35,925.64 503.94,928.38 L510.9,923.4 L510.9,956.6 L503.94,951.62 Q500.35,954.36 496.76,951.62 L489.8,956.6 Z" fill="#6c4090" stroke="#2c1c48" stroke-width="0.8"/>
<line x1="496.76" y1="928.38" x2="496.76" y2="951.62" stroke="#2c1c48" stroke-width="0.8"/>
<line x1="503.94" y1="928.38" x2="503.94" y2="951.62" stroke="#2c1c48" stroke-width="0.8"/>
<line x1="216.2" y1="933.2" x2="236.3" y2="934" stroke="#24153f" stroke-width="4.8" opacity="0.8"/>
<circle cx="280.5" cy="683.25" r="21.4" fill="#6c4090"/>
<circle cx="280.5" cy="683.25" r="5.9" fill="#fff"/>
<circle cx="448.75" cy="683.25" r="21.2" fill="#6c4090"/>
<circle cx="448.75" cy="683.25" r="6" fill="#fff"/>
<circle cx="279" cy="860" r="21" fill="#6c4090"/>
<circle cx="279" cy="860" r="6.2" fill="#fff"/>
<circle cx="447.5" cy="860" r="21.2" fill="#6c4090"/>
<circle cx="447.5" cy="860" r="6.2" fill="#fff"/>
<rect x="312.5" y="659.3" width="38" height="8.2" fill="#6c4090" stroke="#3d2763" stroke-width="0.7"/>
<rect x="319.3" y="667.5" width="24.5" height="13.8" fill="#6c4090" stroke="#3d2763" stroke-width="0.7"/>
<rect x="320" y="688.8" width="23.8" height="13.7" fill="#6c4090" stroke="#3d2763" stroke-width="0.7"/>
<rect x="312.5" y="702.5" width="37.7" height="8.8" fill="#6c4090" stroke="#3d2763" stroke-width="0.7"/>
<rect x="283.8" y="794.5" width="14.5" height="23.8" fill="#6c4090" stroke="#3d2763" stroke-width="0.7"/>
<rect x="298.3" y="787" width="8.7" height="38.5" fill="#6c4090" stroke="#3d2763" stroke-width="0.7"/>
<rect x="430" y="797" width="14.3" height="23.5" fill="#6c4090" stroke="#3d2763" stroke-width="0.7"/>
<rect x="421.8" y="790" width="8.2" height="37.5" fill="#6c4090" stroke="#3d2763" stroke-width="0.7"/>
<line x1="450" y1="118" x2="423.33" y2="149.88" stroke="#1d1a1a" stroke-width="1.1"/>
<polygon points="418,156.25 421.64,146.91 423.33,149.88 426.55,151.02" fill="#1d1a1a"/>
<line x1="628" y1="157" x2="593.93" y2="134.56" stroke="#1d1a1a" stroke-width="1.1"/>
<polygon points="587,130 596.69,132.55 593.93,134.56 593.17,137.9" fill="#1d1a1a"/>
<line x1="345" y1="214.5" x2="372.78" y2="234.63" stroke="#1d1a1a" stroke-width="1.1"/>
<polygon points="379.5,239.5 369.93,236.52 372.78,234.63 373.69,231.33" fill="#1d1a1a"/>
<line x1="333" y1="331.5" x2="295.66" y2="306.6" stroke="#1d1a1a" stroke-width="1.1"/>
<polygon points="288.75,302 298.43,304.61 295.66,306.6 294.88,309.93" fill="#1d1a1a"/>
<line x1="412" y1="410.5" x2="449.39" y2="428.07" stroke="#1d1a1a" stroke-width="1.1"/>
<polygon points="456.9,431.6 446.94,430.46 449.39,428.07 449.66,424.66" fill="#1d1a1a"/>
<line x1="594.5" y1="429" x2="559.06" y2="333.35" stroke="#1d1a1a" stroke-width="1.5"/>
<polygon points="556,325.1 563.04,333.16 559.06,333.35 555.91,335.8" fill="#1d1a1a"/>
<line x1="98" y1="585" x2="127.14" y2="550.58" stroke="#1d1a1a" stroke-width="1.1"/>
<polygon points="132.5,544.25 128.8,553.57 127.14,550.58 123.92,549.43" fill="#1d1a1a"/>
<line x1="246" y1="566" x2="239.06" y2="540.31" stroke="#1d1a1a" stroke-width="1.1"/>
<polygon points="236.9,532.3 242.47,540.64 239.06,540.31 236.29,542.31" fill="#1d1a1a"/>
<line x1="446" y1="557" x2="376.77" y2="538.4" stroke="#1d1a1a" stroke-width="1.1"/>
<polygon points="368.75,536.25 378.75,535.62 376.77,538.4 377.09,541.8" fill="#1d1a1a"/>
<line x1="643" y1="553.5" x2="581.58" y2="591.16" stroke="#1d1a1a" stroke-width="1.1"/>
<polygon points="574.5,595.5 580.93,587.81 581.58,591.16 584.27,593.26" fill="#1d1a1a"/>
<line x1="355" y1="614" x2="338.6" y2="648.02" stroke="#1d1a1a" stroke-width="1.1"/>
<polygon points="335,655.5 336.24,645.55 338.6,648.02 342.01,648.33" fill="#1d1a1a"/>
<line x1="354" y1="772" x2="316.91" y2="796.66" stroke="#1d1a1a" stroke-width="1.1"/>
<polygon points="310,801.25 316.14,793.33 316.91,796.66 319.68,798.66" fill="#1d1a1a"/>
<line x1="376" y1="767.5" x2="413.59" y2="798.47" stroke="#1d1a1a" stroke-width="1.1"/>
<polygon points="420,803.75 410.63,800.18 413.59,798.47 414.7,795.24" fill="#1d1a1a"/>
<line x1="352" y1="897" x2="302.25" y2="877.97" stroke="#1d1a1a" stroke-width="1.1"/>
<polygon points="294.5,875 304.52,875.41 302.25,877.97 302.23,881.38" fill="#1d1a1a"/>
<line x1="378" y1="896" x2="422.92" y2="875.89" stroke="#1d1a1a" stroke-width="1.1"/>
<polygon points="430.5,872.5 423.14,879.3 422.92,875.89 420.52,873.46" fill="#1d1a1a"/>
<line x1="378" y1="973.5" x2="479.41" y2="950.44" stroke="#1d1a1a" stroke-width="1.1"/>
<polygon points="487.5,948.6 478.95,953.83 479.41,950.44 477.53,947.59" fill="#1d1a1a"/>
<line x1="531" y1="853" x2="497.29" y2="829.28" stroke="#1d1a1a" stroke-width="1.1"/>
<polygon points="490.5,824.5 500.11,827.35 497.29,829.28 496.43,832.58" fill="#1d1a1a"/>
<ellipse cx="458" cy="108.9" rx="18.9" ry="19.6" fill="#fff" stroke="#1d1a1a" stroke-width="1.35"/>
<text x="458.5" y="118.92" font-size="28" text-anchor="middle" fill="#1d1a1a">10</text>
<ellipse cx="639.25" cy="162.1" rx="18.8" ry="19.6" fill="#fff" stroke="#1d1a1a" stroke-width="1.35"/>
<text x="639.55" y="172.12" font-size="28" text-anchor="middle" fill="#1d1a1a">11</text>
<ellipse cx="335.4" cy="207.1" rx="19.3" ry="20.4" fill="#fff" stroke="#1d1a1a" stroke-width="1.35"/>
<text x="336.4" y="221.23" font-size="35" text-anchor="middle" fill="#1d1a1a">8</text>
<ellipse cx="347.3" cy="330.9" rx="19.3" ry="20.7" fill="#fff" stroke="#1d1a1a" stroke-width="1.35"/>
<text x="348.1" y="344.63" font-size="35" text-anchor="middle" fill="#1d1a1a">1</text>
<ellipse cx="401.3" cy="405.4" rx="19.3" ry="20.7" fill="#fff" stroke="#1d1a1a" stroke-width="1.35"/>
<text x="402.1" y="419.33" font-size="35" text-anchor="middle" fill="#1d1a1a">2</text>
<ellipse cx="602.9" cy="444.35" rx="19" ry="19.7" fill="#fff" stroke="#1d1a1a" stroke-width="2.2"/>
<text x="603.3" y="453.91" font-size="26.7" text-anchor="middle" fill="#1d1a1a">4</text>
<ellipse cx="87.5" cy="599.5" rx="23.3" ry="23.3" fill="#fff" stroke="#1d1a1a" stroke-width="1.6"/>
<text transform="translate(87.5 609.67) scale(1.08 1)" font-size="28.4" text-anchor="middle" fill="#1d1a1a">24</text>
<ellipse cx="250.6" cy="582.9" rx="19.3" ry="20.6" fill="#fff" stroke="#1d1a1a" stroke-width="1.35"/>
<text x="251.6" y="597.03" font-size="35" text-anchor="middle" fill="#1d1a1a">3</text>
<ellipse cx="458.6" cy="563.1" rx="19.15" ry="20.8" fill="#fff" stroke="#1d1a1a" stroke-width="1.35"/>
<text x="459.8" y="577.33" font-size="35" text-anchor="middle" fill="#1d1a1a">7</text>
<ellipse cx="654.65" cy="546.4" rx="19.4" ry="20.7" fill="#fff" stroke="#1d1a1a" stroke-width="1.35"/>
<text x="656.25" y="560.43" font-size="35" text-anchor="middle" fill="#1d1a1a">9</text>
<ellipse cx="360.7" cy="601" rx="18.9" ry="19.8" fill="#fff" stroke="#1d1a1a" stroke-width="1.35"/>
<text x="361.3" y="611.15" font-size="27.8" text-anchor="middle" fill="#1d1a1a">25</text>
<ellipse cx="365" cy="762.1" rx="18.85" ry="20" fill="#fff" stroke="#1d1a1a" stroke-width="1.35"/>
<text x="365.4" y="771.87" font-size="27.3" text-anchor="middle" fill="#1d1a1a">26</text>
<ellipse cx="365.1" cy="900.7" rx="19" ry="19.9" fill="#fff" stroke="#1d1a1a" stroke-width="1.35"/>
<text x="365.5" y="910.65" font-size="27.8" text-anchor="middle" fill="#1d1a1a">27</text>
<ellipse cx="364.65" cy="974.8" rx="19.4" ry="20.8" fill="#fff" stroke="#1d1a1a" stroke-width="1.35"/>
<text x="365.65" y="989.03" font-size="35" text-anchor="middle" fill="#1d1a1a">6</text>
<ellipse cx="541.3" cy="860.6" rx="19.3" ry="20.8" fill="#fff" stroke="#1d1a1a" stroke-width="1.35"/>
<text x="542.1" y="875.13" font-size="35" text-anchor="middle" fill="#1d1a1a">5</text>
</svg>
</body>
</html>
